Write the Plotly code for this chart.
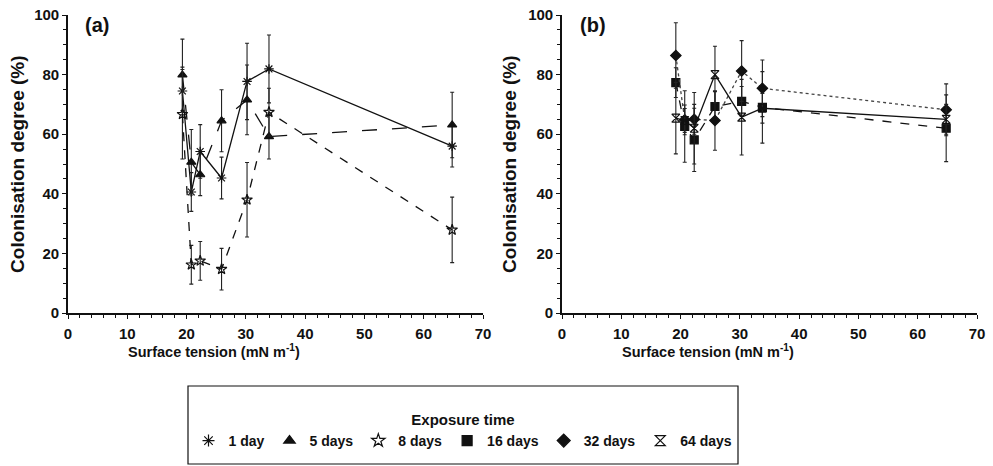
import plotly.graph_objects as go

# ---------------- data ----------------
x_a = [19.3, 20.8, 22.3, 25.9, 30.2, 33.9, 64.8]
day1 = [74.5, 40.6, 54.2, 45.3, 77.7, 81.9, 56.0]
day1_err = [8, 6.5, 9, 7, 12.8, 11.4, 7]
day5 = [79.9, 50.6, 46.4, 64.5, 71.5, 59.2, 63.1]
day5_err = [12, 11, 7, 10.4, 11.7, 7.5, 11]
day8 = [66.7, 16.2, 17.5, 14.7, 38.0, 67.4, 27.9]
day8_err = [15, 6.5, 6.5, 7, 12.5, 8, 11]

x_b = [19.2, 20.7, 22.3, 25.8, 30.3, 33.8, 64.8]
day16 = [77.3, 62.6, 58.1, 69.3, 71.0, 69.0, 62.0]
day16_err = [5, 12, 10.6, 5, 5, 12, 11.2]
day32 = [86.4, 64.8, 65.0, 64.6, 81.2, 75.4, 68.2]
day32_err = [11, 5, 5, 10, 10.2, 9.5, 8.7]
day64 = [65.4, 64.6, 62.0, 80.0, 65.7, 68.7, 65.0]
day64_err = [12, 4, 12, 9.5, 12.7, 5, 5]

legend_names = ["1 day", "5 days", "8 days", "16 days", "32 days", "64 days"]

FONT = "Liberation Sans"
BLACK = "#111111"

fig = go.Figure()

def add_series(x, y, err, symbol, dash, xa, ya, width=1.3, color=BLACK, msize=8):
    fig.add_trace(go.Scatter(
        x=x, y=y, mode="lines+markers",
        line=dict(color=color, width=width, dash=dash),
        marker=dict(symbol=symbol, size=msize, color=BLACK,
                    line=dict(color=BLACK, width=1.2)),
        error_y=dict(type="data", array=err, visible=True, color="#222222",
                     thickness=1.1, width=2),
        xaxis=xa, yaxis=ya, showlegend=False))

add_series(x_a, day1, day1_err, "asterisk-open", "solid", "x", "y")
add_series(x_a, day5, day5_err, "triangle-up", "longdash", "x", "y")
add_series(x_a, day8, day8_err, "star-open", "dash", "x", "y")

add_series(x_b, day16, day16_err, "square", "dash", "x2", "y2")
add_series(x_b, day32, day32_err, "diamond", "dot", "x2", "y2", color="#444444")
add_series(x_b, day64, day64_err, "hourglass-open", "solid", "x2", "y2")

# legend-only marker traces
symbols = ["asterisk-open", "triangle-up", "star-open", "square", "diamond",
           "hourglass-open"]
for name, sym in zip(legend_names, symbols):
    fig.add_trace(go.Scatter(
        x=[None], y=[None], mode="markers", name=name,
        marker=dict(symbol=sym, size=10, color=BLACK,
                    line=dict(color=BLACK, width=1.2)),
        xaxis="x", yaxis="y", showlegend=True))

axis_common = dict(
    showline=True, linecolor=BLACK, linewidth=1.6, mirror=False,
    ticks="outside", ticklen=4, tickcolor=BLACK, tickwidth=1.2,
    showgrid=False, zeroline=False, automargin=False,
    tickfont=dict(family=FONT, size=15, color=BLACK, weight="bold"),
)
xcommon = dict(axis_common, range=[0, 70], dtick=10, tick0=0,
               ticklabelstandoff=2,
               minor=dict(dtick=2, ticks="outside", ticklen=3,
                          tickcolor=BLACK, showgrid=False))
ycommon = dict(axis_common, range=[0, 100], dtick=20, tick0=0,
               minor=dict(dtick=5, ticks="outside", ticklen=3,
                          tickcolor=BLACK, showgrid=False))

d1 = 415 / 909
d2 = 494 / 909
W, H = 993, 466

def px_x(p):
    return (p - 68) / 909

def px_y(p):
    return (313 - p) / 298

fig.update_layout(
    width=W, height=H,
    margin=dict(l=68, r=16, t=15, b=153, autoexpand=False),
    paper_bgcolor="white", plot_bgcolor="white",
    font=dict(family=FONT, color=BLACK),
    xaxis=dict(xcommon, domain=[0, d1], anchor="y"),
    yaxis=dict(ycommon, domain=[0, 1], anchor="x"),
    xaxis2=dict(xcommon, domain=[d2, 1], anchor="y2"),
    yaxis2=dict(ycommon, domain=[0, 1], anchor="x2"),
    legend=dict(
        orientation="h", xref="container", yref="container",
        x=463 / W, xanchor="center",
        y=1 - 386 / H, yanchor="top",
        borderwidth=0, bgcolor="rgba(0,0,0,0)",
        font=dict(family=FONT, size=14, color=BLACK, weight="bold"),
        title=dict(text="<br>Exposure time", side="top center",
                   font=dict(family=FONT, size=15, color=BLACK, weight="bold")),
        itemwidth=30, tracegroupgap=0,
    ),
    showlegend=True,
    shapes=[dict(type="rect", xref="paper", yref="paper",
                 x0=px_x(188), x1=px_x(738), y0=px_y(464), y1=px_y(386),
                 line=dict(color=BLACK, width=1.2), fillcolor="rgba(0,0,0,0)",
                 layer="below")],
)

ann_font = dict(family=FONT, color=BLACK, weight="bold")
anns = [
    dict(text="(a)", x=px_x(83), y=px_y(25), xanchor="left",
         yanchor="middle", font=dict(ann_font, size=20)),
    dict(text="(b)", x=px_x(578), y=px_y(25), xanchor="left",
         yanchor="middle", font=dict(ann_font, size=20)),
    dict(text="Colonisation degree (%)", x=px_x(18), y=0.497,
         textangle=-90, xanchor="center", yanchor="middle",
         font=dict(ann_font, size=19)),
    dict(text="Colonisation degree (%)", x=px_x(510), y=0.497,
         textangle=-90, xanchor="center", yanchor="middle",
         font=dict(ann_font, size=19)),
    dict(text="Surface tension (mN m<sup>-1</sup>)", x=px_x(214),
         y=px_y(351), xanchor="center", yanchor="middle",
         font=dict(ann_font, size=14.5)),
    dict(text="Surface tension (mN m<sup>-1</sup>)", x=px_x(708),
         y=px_y(351), xanchor="center", yanchor="middle",
         font=dict(ann_font, size=14.5)),
]
for a in anns:
    a.update(xref="paper", yref="paper", showarrow=False)
fig.update_layout(annotations=anns)

fig.write_html("out.html",
               config={"displayModeBar": False},
               post_script="document.body.style.margin='0';"
                           "document.body.style.overflow='hidden';")
